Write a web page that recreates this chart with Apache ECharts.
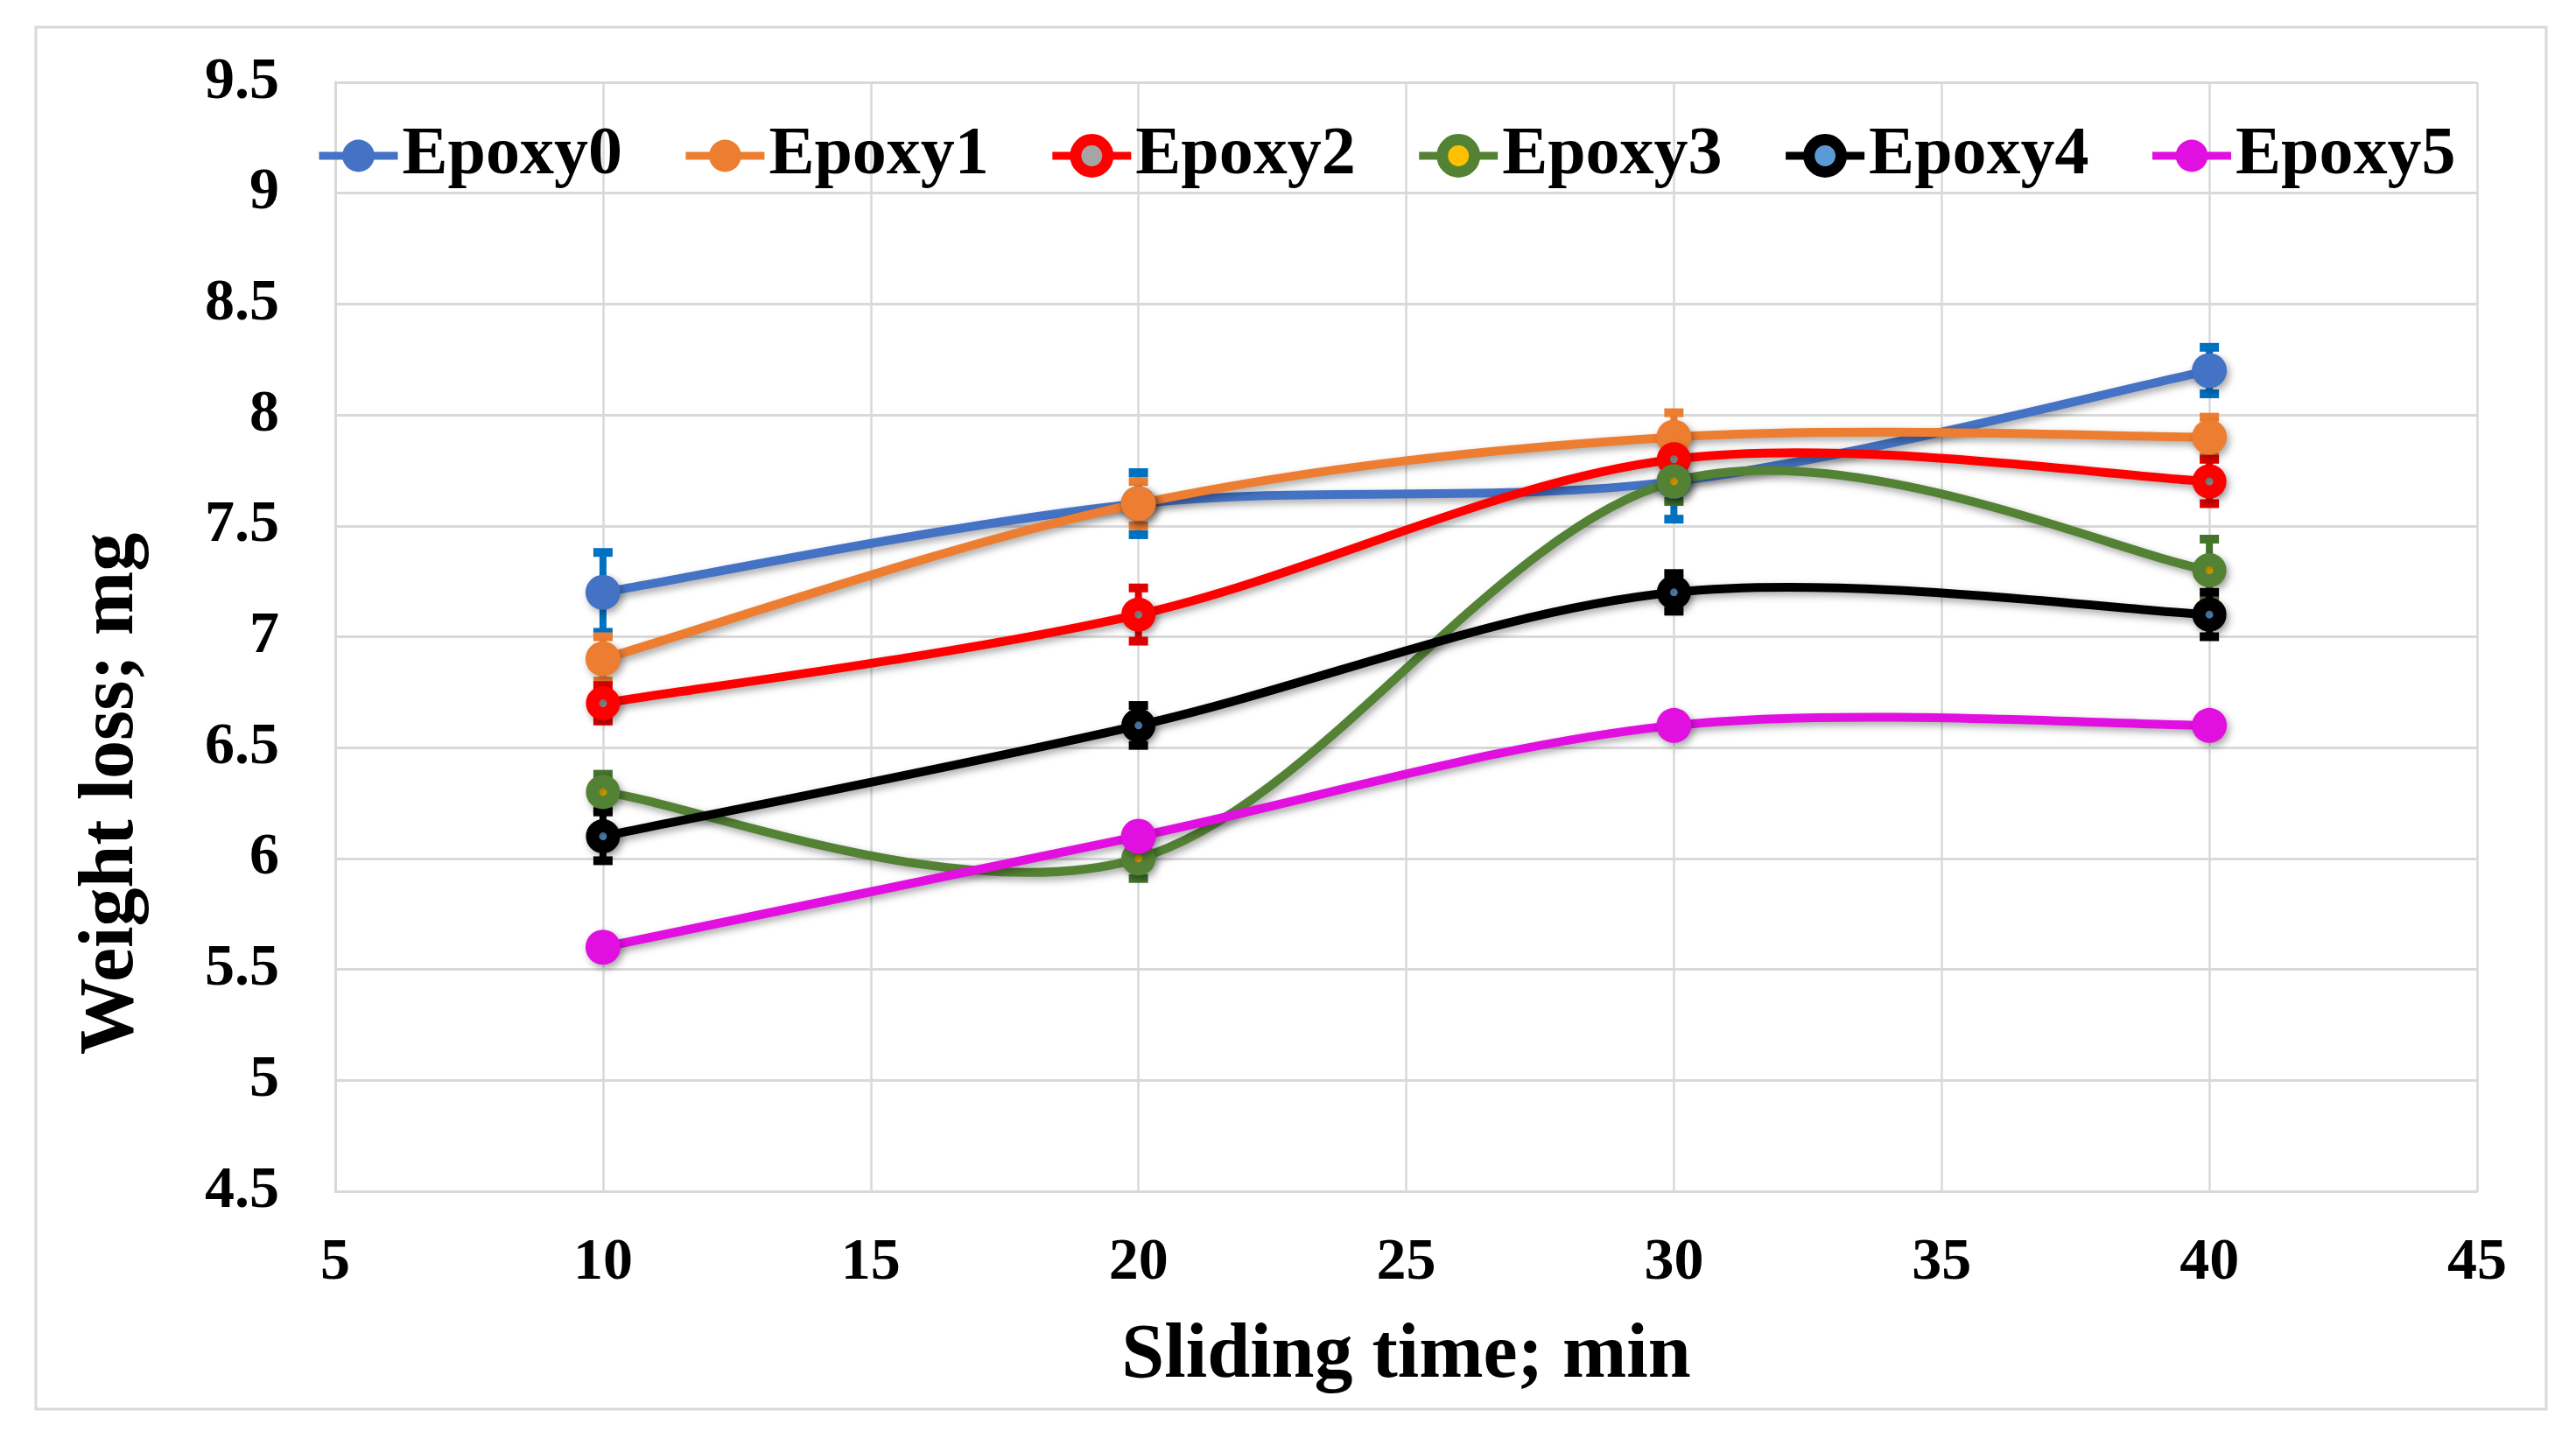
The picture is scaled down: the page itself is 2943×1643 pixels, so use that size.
<!DOCTYPE html>
<html>
<head>
<meta charset="utf-8">
<script src="https://cdn.jsdelivr.net/npm/echarts@6/dist/echarts.min.js"></script>
<style>
html,body{margin:0;padding:0;background:#fff;}
#chart{width:2943px;height:1643px;}
</style>
</head>
<body>
<div id="chart"></div>
<script>
// ---- data ----
const xValues = [10, 20, 30, 40];
const seriesNames = ['Epoxy0', 'Epoxy1', 'Epoxy2', 'Epoxy3', 'Epoxy4', 'Epoxy5'];
const epoxy0 = [7.2, 7.6, 7.7, 8.2];
const epoxy1 = [6.9, 7.6, 7.9, 7.9];
const epoxy2 = [6.7, 7.1, 7.8, 7.7];
const epoxy3 = [6.3, 6.0, 7.7, 7.3];
const epoxy4 = [6.1, 6.6, 7.2, 7.1];
const epoxy5 = [5.6, 6.1, 6.6, 6.6];
const err0 = [0.18, 0.14, 0.17, 0.105];
const err1 = [0.10, 0.10, 0.11, 0.09];
const err2 = [0.08, 0.12, 0.08, 0.10];
const err3 = [0.08, 0.09, 0.09, 0.14];
const err4 = [0.11, 0.09, 0.085, 0.10];
const err5 = [0.02, 0.02, 0.02, 0.02];
const xTicks = [5, 10, 15, 20, 25, 30, 35, 40, 45];
const yTicks = [4.5, 5, 5.5, 6, 6.5, 7, 7.5, 8, 8.5, 9, 9.5];

const values = [epoxy0, epoxy1, epoxy2, epoxy3, epoxy4, epoxy5];
const errors = [err0, err1, err2, err3, err4, err5];

// ---- styles ----
const lineColors = ['#4472C4', '#ED7D31', '#FF0000', '#548235', '#000000', '#E10FE0'];
const innerColors = [null, null, '#A5A5A5', '#FFC000', '#5B9BD5', null];
const errColors = ['#0070C0', '#ED7D31', '#E00000', '#44732C', '#000000', '#E10FE0'];
const FONT = '"Liberation Serif", "Times New Roman", serif';
const LINE_W = 10;
const SHADOW = {shadowColor: 'rgba(0,0,0,0.35)', shadowBlur: 8, shadowOffsetX: 3, shadowOffsetY: 4};

const chart = echarts.init(document.getElementById('chart'), null, {renderer: 'canvas'});

const series = [];
// error bars (under lines / markers)
values.forEach((vals, i) => {
  const data = xValues.map((x, k) => [x, vals[k] - errors[i][k], vals[k] + errors[i][k]]);
  series.push({
    type: 'custom',
    name: seriesNames[i] + '_err',
    z: 2,
    silent: true,
    data: data,
    encode: {x: 0, y: [1, 2]},
    renderItem: function (params, api) {
      const x = api.value(0);
      const lo = api.coord([x, api.value(1)]);
      const hi = api.coord([x, api.value(2)]);
      const stemW = 8, capW = 22, capH = 10;
      const col = errColors[i];
      return {
        type: 'group',
        children: [
          {type: 'rect', shape: {x: lo[0] - stemW / 2, y: hi[1], width: stemW, height: lo[1] - hi[1]}, style: {fill: col}},
          {type: 'rect', shape: {x: hi[0] - capW / 2, y: hi[1] - capH / 2, width: capW, height: capH}, style: {fill: col}},
          {type: 'rect', shape: {x: lo[0] - capW / 2, y: lo[1] - capH / 2, width: capW, height: capH}, style: {fill: col}}
        ]
      };
    }
  });
});

// smoothed curves (Catmull-Rom, like the spreadsheet's smoothed lines), positioned via the axes
values.forEach((vals, i) => {
  series.push({
    type: 'custom',
    name: seriesNames[i] + '_curve',
    z: 3,
    silent: true,
    data: xValues.map((x, k) => [x, vals[k]]),
    encode: {x: 0, y: 1},
    renderItem: function (params, api) {
      if (params.dataIndex !== 0) return {type: 'group', children: []};
      const pts = xValues.map((x, k) => api.coord([x, vals[k]]));
      const n = pts.length;
      const children = [];
      for (let s = 0; s < n - 1; s++) {
        const p0 = pts[Math.max(s - 1, 0)], p1 = pts[s], p2 = pts[s + 1], p3 = pts[Math.min(s + 2, n - 1)];
        children.push({
          type: 'bezierCurve',
          shape: {
            x1: p1[0], y1: p1[1], x2: p2[0], y2: p2[1],
            cpx1: p1[0] + (p2[0] - p0[0]) / 6, cpy1: p1[1] + (p2[1] - p0[1]) / 6,
            cpx2: p2[0] - (p3[0] - p1[0]) / 6, cpy2: p2[1] - (p3[1] - p1[1]) / 6
          },
          style: Object.assign({stroke: lineColors[i], lineWidth: LINE_W, fill: null, lineCap: 'round'}, SHADOW)
        });
      }
      return {type: 'group', children: children};
    }
  });
});

// markers (line series so the legend shows line + marker)
values.forEach((vals, i) => {
  const hasInner = !!innerColors[i];
  series.push({
    type: 'line',
    name: seriesNames[i],
    z: 4,
    data: xValues.map((x, k) => [x, vals[k]]),
    symbol: 'circle',
    symbolSize: hasInner ? 24 : 40,
    showAllSymbol: true,
    lineStyle: {color: lineColors[i], width: LINE_W, opacity: 0},
    itemStyle: Object.assign({
      color: hasInner ? innerColors[i] : lineColors[i],
      borderColor: lineColors[i],
      borderWidth: hasInner ? 15 : 0
    }, SHADOW),
    emphasis: {disabled: true}
  });
});

const legendData = seriesNames.map((n, i) => {
  const hasInner = !!innerColors[i];
  return {
    name: n,
    itemStyle: {
      color: hasInner ? innerColors[i] : lineColors[i],
      borderColor: lineColors[i],
      borderWidth: hasInner ? 13 : 0,
      shadowBlur: 0, shadowOffsetX: 0, shadowOffsetY: 0
    },
    lineStyle: {color: lineColors[i], width: 9, opacity: 1, shadowBlur: 0, shadowOffsetX: 0, shadowOffsetY: 0}
  };
});

const option = {
  backgroundColor: '#ffffff',
  animation: false,
  textStyle: {fontFamily: FONT},
  grid: {left: 383, right: 113, top: 94, bottom: 282, containLabel: false},
  legend: {
    data: legendData,
    left: 355,
    top: 134,
    itemWidth: 90,
    itemHeight: 46,
    itemGap: 68,
    textStyle: {fontFamily: FONT, fontWeight: 'bold', fontSize: 78, color: '#000'}
  },
  xAxis: {
    type: 'value',
    min: xTicks[0],
    max: xTicks[xTicks.length - 1],
    interval: 5,
    name: 'Sliding time; min',
    nameLocation: 'middle',
    nameGap: 145,
    nameTextStyle: {fontFamily: FONT, fontWeight: 'bold', fontSize: 88, color: '#000'},
    axisLine: {show: true, lineStyle: {color: '#d9d9d9', width: 3}},
    axisTick: {show: false},
    axisLabel: {fontFamily: FONT, fontWeight: 'bold', fontSize: 68, color: '#000', margin: 48,
      formatter: v => xTicks.indexOf(v) >= 0 ? String(v) : ''},
    splitLine: {show: true, lineStyle: {color: '#d9d9d9', width: 2.5}}
  },
  yAxis: {
    type: 'value',
    min: yTicks[0],
    max: yTicks[yTicks.length - 1],
    interval: 0.5,
    axisLine: {show: true, lineStyle: {color: '#d9d9d9', width: 3}},
    axisTick: {show: false},
    axisLabel: {fontFamily: FONT, fontWeight: 'bold', fontSize: 68, color: '#000', margin: 64,
      formatter: v => String(v)},
    splitLine: {show: true, lineStyle: {color: '#d9d9d9', width: 3}}
  },
  graphic: [
    {type: 'rect', shape: {x: 41, y: 31, width: 2868, height: 1579},
     style: {fill: 'none', stroke: '#d9d9d9', lineWidth: 3}, silent: true, z: -1},
    {type: 'text', x: 128, y: 907, rotation: Math.PI / 2,
     style: {text: 'Weight loss; mg', font: 'bold 88px ' + FONT, fill: '#000',
       textAlign: 'center', textVerticalAlign: 'middle'}, silent: true}
  ],
  series: series
};
chart.setOption(option);
</script>
</body>
</html>
